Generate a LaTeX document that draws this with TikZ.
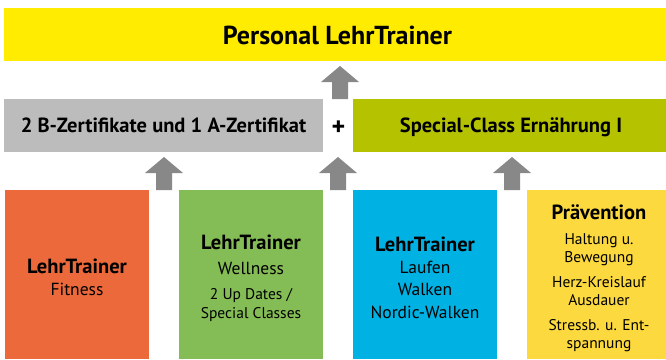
\documentclass[tikz,border=0pt]{standalone}
\usepackage{fontspec}
\setmainfont{PT Sans}
\definecolor{cTop}{HTML}{FFEC00}
\definecolor{cGray}{HTML}{BCBCBC}
\definecolor{cOlive}{HTML}{B4C200}
\definecolor{cOrange}{HTML}{EC693C}
\definecolor{cGreen}{HTML}{84BC55}
\definecolor{cBlue}{HTML}{00B2E3}
\definecolor{cYel}{HTML}{FDD940}
\definecolor{cArrow}{HTML}{888888}
\tikzset{
  box/.style={rectangle, inner sep=0pt, outer sep=0pt},
  txt/.style={anchor=base, inner sep=0pt, text=black},
  bigb/.style={txt, font=\bfseries\fontsize{26}{28}\selectfont},
  midb/.style={txt, font=\bfseries\fontsize{20.5}{22}\selectfont},
  plusb/.style={txt, font=\bfseries\fontsize{26}{28}\selectfont},
  hd/.style={txt, font=\bfseries\fontsize{20.5}{22}\selectfont},
  reg/.style={txt, font=\fontsize{17.5}{19}\selectfont},
  sm/.style={txt, font=\fontsize{15.5}{17}\selectfont},
  pics/blockarrow/.style={code={
    \fill[cArrow] (0,0) -- (19,16) -- (8,16) -- (8,#1) -- (-8,#1) -- (-8,16) -- (-19,16) -- cycle;
  }}
}
\begin{document}
\begin{tikzpicture}[x=1pt,y=-1pt]
\useasboundingbox (0,0) rectangle (666,359);
% boxes
\fill[cTop] (4,8) rectangle (666,61);
\node[box, minimum width=662pt, minimum height=53pt] (top) at (335,34.5) {};
\fill[cGray] (4,99) rectangle (323,152);
\node[box, minimum width=319pt, minimum height=53pt] (gray) at (163.5,125.5) {};
\fill[cOlive] (353,99) rectangle (666,152);
\node[box, minimum width=313pt, minimum height=53pt] (olive) at (509.5,125.5) {};
\fill[cOrange] (5,190) rectangle (149,359);
\node[box, minimum width=144pt, minimum height=169pt] (fit) at (77,274.5) {};
\fill[cGreen] (179,190) rectangle (323,359);
\node[box, minimum width=144pt, minimum height=169pt] (well) at (251,274.5) {};
\fill[cBlue] (353,190) rectangle (497,359);
\node[box, minimum width=144pt, minimum height=169pt] (lauf) at (425,274.5) {};
\fill[cYel] (527,190) rectangle (666,359);
\node[box, minimum width=139pt, minimum height=169pt] (prae) at (596.5,274.5) {};
% arrows
\pic at (340,66) {blockarrow=33};
\pic at (164,157) {blockarrow=33};
\pic at (338,157) {blockarrow=33};
\pic at (512,157) {blockarrow=33};
% texts
\node[bigb] (t1) at (337.5,44.3) {Personal LehrTrainer};
\node[midb] (t2) at (163.5,132.5) {2 B-Zertifikate und 1 A-Zertifikat};
\node[plusb] (plus) at (338.5,135) {+};
\node[midb] (t3) at (511,132.5) {Special-Class Ernährung I};
\node[hd] (f1) at (77,273.3) {LehrTrainer};
\node[reg] (f2) at (77,295.3) {Fitness};
\node[hd] (w1) at (251,249) {LehrTrainer};
\node[reg] (w2) at (251,274) {Wellness};
\node[sm] (w3) at (251,299) {2 Up Dates /};
\node[sm] (w4) at (251,318) {Special Classes};
\node[hd] (l1) at (425,251) {LehrTrainer};
\node[reg] (l2) at (425,273) {Laufen};
\node[reg] (l3) at (425,295) {Walken};
\node[reg] (l4) at (425,318) {Nordic-Walken};
\node[hd] (p1) at (599,219) {Prävention};
\node[sm] (p2) at (599,244) {Haltung u.};
\node[sm] (p3) at (599,262) {Bewegung};
\node[sm] (p4) at (599,287) {Herz-Kreislauf};
\node[sm] (p5) at (599,305) {Ausdauer};
\node[sm] (p6) at (599,330) {Stressb. u. Ent-};
\node[sm] (p7) at (599,348) {spannung};
\end{tikzpicture}
\end{document}
